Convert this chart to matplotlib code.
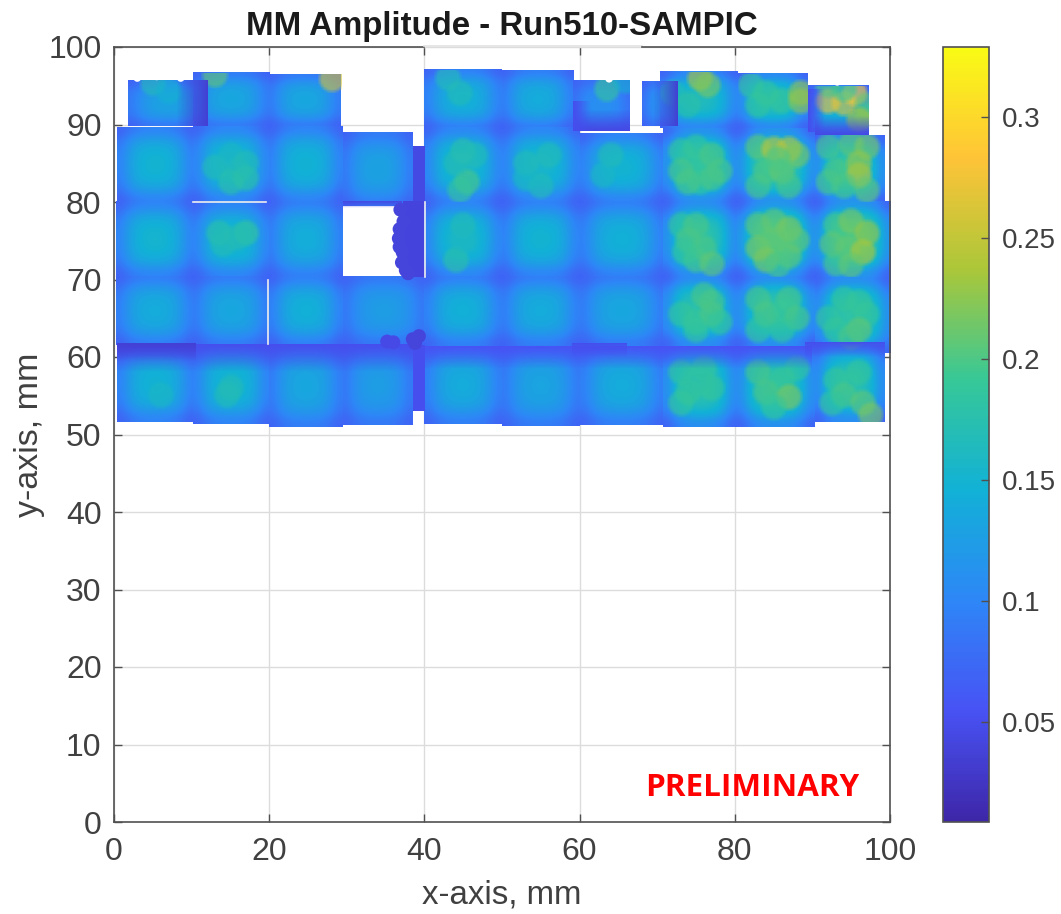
import numpy as np
import matplotlib
matplotlib.use('Agg')
import matplotlib.pyplot as plt
from matplotlib.colors import LinearSegmentedColormap
from matplotlib.cm import ScalarMappable
from matplotlib.colors import Normalize
from matplotlib.patches import Rectangle

plt.rcParams['font.family'] = ['Liberation Sans', 'DejaVu Sans']

# parula
parula_colors = [(0.2422, 0.1504, 0.6603), (0.2810, 0.3228, 0.9579), (0.1786, 0.5289, 0.9682),
                 (0.0689, 0.6948, 0.8394), (0.2161, 0.7843, 0.5923), (0.6720, 0.7793, 0.2227),
                 (0.9970, 0.7659, 0.2199), (0.9769, 0.9839, 0.0805)]
parula = LinearSegmentedColormap.from_list('parula', parula_colors)
vmin, vmax = 0.0086, 0.329

# pads, one line per row
pad_x0 = [1.8, 10.2, 20.0,   40.0, 50.0, 59.2, 68.0, 70.4, 80.4, 89.4,
          0.4, 10.2, 20.0, 29.5,   40.0, 50.0, 60.0, 70.8, 80.3, 90.3,
          0.2, 10.2, 20.0,   40.0, 50.0, 60.0, 70.8, 80.3, 90.3,
          0.2, 10.2, 20.0, 29.5,   40.0, 50.0, 60.0, 70.8, 80.3, 90.3,
          0.4, 10.2, 20.0, 29.5,   40.0, 50.0, 60.0, 70.8, 80.3, 90.3]
pad_x1 = [12.0, 20.0, 29.2,   50.0, 59.2, 66.5, 72.7, 80.4, 89.4, 97.2,
          10.2, 20.0, 29.5, 38.5,   50.0, 60.0, 70.8, 80.3, 90.3, 99.2,
          10.2, 20.0, 29.5,   50.0, 60.0, 70.8, 80.3, 90.3, 100.0,
          10.2, 20.0, 29.5, 40.0,   50.0, 60.0, 70.8, 80.3, 90.3, 100.0,
          10.2, 20.0, 29.5, 38.5,   50.0, 60.0, 70.8, 80.3, 90.3, 99.2]
pad_y0 = [89.8, 89.8, 89.8,   89.5, 89.5, 89.2, 89.8, 89.5, 89.5, 88.6,
          80.0, 80.0, 80.0, 79.5,   80.0, 80.0, 80.0, 80.0, 80.0, 80.0,
          70.3, 70.3, 70.3,   70.3, 70.3, 70.3, 70.3, 70.3, 70.3,
          61.5, 61.5, 61.5, 61.5,   61.5, 61.5, 61.5, 61.5, 61.5, 60.5,
          51.6, 51.3, 51.0, 51.2,   51.4, 51.1, 51.2, 51.0, 51.0, 51.6]
pad_y1 = [95.7, 96.7, 96.5,   97.0, 96.9, 95.7, 95.5, 96.8, 96.5, 95.0,
          89.6, 89.8, 89.8, 89.0,   89.6, 89.6, 88.8, 89.5, 89.5, 88.6,
          80.0, 79.9, 80.0,   80.0, 80.0, 80.0, 80.0, 80.0, 80.0,
          70.3, 70.3, 70.3, 70.3,   70.3, 70.3, 70.3, 70.3, 70.3, 70.3,
          61.5, 61.5, 61.5, 61.5,   61.5, 61.5, 61.5, 61.5, 61.5, 61.5]
pad_peak = [0.130, 0.135, 0.135,   0.145, 0.140, 0.110, 0.110, 0.165, 0.170, 0.145,
            0.150, 0.155, 0.148, 0.130,   0.158, 0.155, 0.150, 0.185, 0.192, 0.188,
            0.152, 0.155, 0.142,   0.158, 0.150, 0.145, 0.182, 0.200, 0.200,
            0.140, 0.135, 0.145, 0.125,   0.145, 0.140, 0.135, 0.178, 0.182, 0.182,
            0.148, 0.152, 0.135, 0.125,   0.140, 0.132, 0.140, 0.178, 0.182, 0.178]
pad_edge = 0.07

# falloff of one pad, edge 0 to centre 1
pad_shape = [[0.00, 0.18, 0.30, 0.34, 0.35, 0.34, 0.30, 0.18, 0.00],
             [0.18, 0.45, 0.62, 0.68, 0.70, 0.68, 0.62, 0.45, 0.18],
             [0.30, 0.62, 0.82, 0.88, 0.90, 0.88, 0.82, 0.62, 0.30],
             [0.34, 0.68, 0.88, 0.97, 0.99, 0.97, 0.88, 0.68, 0.34],
             [0.35, 0.70, 0.90, 0.99, 1.00, 0.99, 0.90, 0.70, 0.35],
             [0.34, 0.68, 0.88, 0.97, 0.99, 0.97, 0.88, 0.68, 0.34],
             [0.30, 0.62, 0.82, 0.88, 0.90, 0.88, 0.82, 0.62, 0.30],
             [0.18, 0.45, 0.62, 0.68, 0.70, 0.68, 0.62, 0.45, 0.18],
             [0.00, 0.18, 0.30, 0.34, 0.35, 0.34, 0.30, 0.18, 0.00]]

# darker strips where pads overlap: x0, x1, y0, y1, value, side that stays opaque
strip_x0 = [8.0, 69.5, 59.2, 59.2, 89.4, 90.3, 0.4, 40.0, 0.4, 29.5, 38.5, 89.0, 38.5, 37.3, 59.0]
strip_x1 = [12.0, 72.7, 66.5, 61.5, 91.5, 97.2, 39.0, 90.0, 10.5, 37.0, 40.0, 99.2, 40.0, 40.0, 66.0]
strip_y0 = [89.8, 89.8, 89.2, 89.2, 89.0, 88.6, 58.0, 58.5, 59.5, 79.2, 79.5, 60.0, 53.0, 70.3, 60.0]
strip_y1 = [95.7, 95.5, 92.0, 93.0, 94.5, 91.0, 61.5, 61.4, 61.7, 80.0, 87.2, 61.9, 61.5, 80.0, 61.8]
strip_val = [0.035, 0.035, 0.045, 0.05, 0.05, 0.045, 0.05, 0.055, 0.035, 0.045, 0.045, 0.05, 0.05, 0.04, 0.05]
strip_side = ['right', 'right', 'bottom', 'left', 'left', 'bottom', 'top', 'top', 'top', 'top', 'none', 'top',
              'none', 'none', 'top']

# hot spots on the pads
spot_x = [73, 75, 77, 73, 75.5, 78, 77, 74,   83, 85, 87, 88, 84, 86, 83, 87, 85.5,
          92, 95, 97, 93, 96, 96, 94, 97, 92,   73, 75, 74, 76, 75, 77, 73.5,
          83, 85, 87, 88, 83, 85, 87, 84, 85.5,   93, 95, 97, 92.5, 94.5, 96.5, 93, 95,
          76, 77, 73, 75, 77, 75, 78,   83, 87, 84, 86.5, 88, 83, 86,
          94, 96, 92, 97, 93, 96, 95,   73, 76, 74, 77, 73, 75,
          83, 86, 88, 84, 87, 85,   93, 96, 94, 96.5, 97.5, 92.5,
          75.5, 76.5, 72, 74,   82, 84, 86, 88.5, 88.5, 83,
          92, 94, 95.5, 97, 97, 94, 96, 92,
          13, 15, 16, 17, 15, 17,   45, 45.5, 44.5, 44, 46.5,   45, 44, 45,
          13.5, 17, 14, 16,   53, 56, 55, 53,   64, 63,
          5, 7, 28, 13, 63.5, 66, 43, 44.5, 14.5, 6, 15]
spot_y = [86.5, 87, 86, 84, 82.5, 84, 83, 82.5,   87, 86.8, 86.8, 86, 84, 84, 82, 82, 85.5,
          87, 87.5, 87, 84, 83.5, 85, 82, 81.5, 82.5,   77, 77, 75, 74, 72.5, 72, 73.5,
          77, 77.5, 76.5, 75, 74, 75, 73, 72.5, 71.8,   77, 77.5, 76, 74.5, 74, 73.5, 72, 71.8,
          68, 67, 65.5, 64.5, 65.5, 63.5, 64.5,   67.5, 67.5, 65.5, 66, 65, 63.5, 63.5,
          67.5, 67, 65, 65.5, 63.5, 63.5, 62.5,   58, 58.5, 55.5, 56, 54, 57,
          58, 57, 58.5, 55.5, 54.8, 53.5,   57, 58, 55, 54, 52.5, 54,
          96, 95, 94, 92.5,   95, 94, 93, 94, 93, 92.5,
          93, 92.8, 94, 92.5, 91, 94.5, 90.5, 95,
          84.5, 82.5, 84, 83, 86, 85,   86.5, 82.5, 81.5, 85, 86,   77, 72.5, 75,
          76, 76, 74.5, 75.5,   85, 86, 82, 83,   86, 83.5,
          95.3, 94.3, 95.8, 96.4, 94.5, 95.6, 96, 94, 55, 55, 56]
spot_v = [0.19, 0.19, 0.20, 0.20, 0.19, 0.20, 0.20, 0.20,   0.21, 0.25, 0.25, 0.22, 0.20, 0.21, 0.20, 0.20, 0.20,
          0.20, 0.21, 0.22, 0.20, 0.25, 0.23, 0.20, 0.21, 0.20,   0.19, 0.20, 0.20, 0.20, 0.20, 0.21, 0.19,
          0.21, 0.21, 0.22, 0.21, 0.22, 0.21, 0.21, 0.22, 0.20,   0.20, 0.22, 0.23, 0.21, 0.21, 0.24, 0.20, 0.21,
          0.20, 0.20, 0.19, 0.19, 0.20, 0.19, 0.19,   0.20, 0.20, 0.20, 0.19, 0.20, 0.19, 0.19,
          0.19, 0.19, 0.19, 0.19, 0.19, 0.21, 0.20,   0.19, 0.19, 0.19, 0.19, 0.19, 0.18,
          0.20, 0.19, 0.19, 0.20, 0.22, 0.19,   0.19, 0.19, 0.20, 0.21, 0.22, 0.19,
          0.24, 0.22, 0.17, 0.18,   0.19, 0.19, 0.19, 0.23, 0.23, 0.19,
          0.28, 0.27, 0.29, 0.21, 0.19, 0.19, 0.24, 0.20,
          0.17, 0.18, 0.17, 0.18, 0.16, 0.17,   0.18, 0.20, 0.19, 0.17, 0.17,   0.17, 0.18, 0.16,
          0.18, 0.19, 0.17, 0.17,   0.17, 0.17, 0.17, 0.16,   0.17, 0.16,
          0.17, 0.15, 0.26, 0.21, 0.19, 0.15, 0.17, 0.17, 0.17, 0.16, 0.17]

# jagged dark edge of the hole and the dents near y = 61
jag_x = [36.9, 37.3, 36.8, 36.7, 36.8, 37.2, 37.1, 37.6, 37.9, 35.2, 36.0, 38.5, 39.3, 38.8]
jag_y = [79.0, 77.5, 76.5, 75.3, 74.2, 73.5, 72.2, 71.2, 70.8, 62.0, 61.9, 62.3, 62.7, 61.8]
jag_v = [0.04, 0.04, 0.04, 0.04, 0.04, 0.04, 0.04, 0.04, 0.04, 0.045, 0.045, 0.04, 0.04, 0.04]
notch_x = [3.0, 5.5, 8.6, 63.8, 67.0, 93.2, 90.5, 98.0]
notch_y = [96.0, 96.2, 96.0, 95.9, 95.0, 95.5, 95.6, 94.6]

# thin white seams: x0, x1, y0, y1
seam_x0 = [10.2, 19.9, 40.05]
seam_x1 = [19.6, 19.9, 40.05]
seam_y0 = [79.95, 61.7, 70.3]
seam_y1 = [79.95, 70.0, 80.0]

axis_ticks = [0, 20, 40, 60, 80, 100]
y_ticks = [0, 10, 20, 30, 40, 50, 60, 70, 80, 90, 100]
cbar_ticks = [0.05, 0.1, 0.15, 0.2, 0.25, 0.3]
cbar_labels = ['0.05', '0.1', '0.15', '0.2', '0.25', '0.3']

text_color = '#404040'
spine_color = '#505050'

fig = plt.figure(figsize=(10.61, 9.14), dpi=100)
ax = fig.add_axes([114 / 1061, 92 / 914, 776 / 1061, 775 / 914])

shape = np.array(pad_shape)
for i in range(len(pad_x0)):
    z = pad_edge + (pad_peak[i] - pad_edge) * shape
    ax.imshow(z, extent=[pad_x0[i], pad_x1[i], pad_y0[i], pad_y1[i]], origin='lower', cmap=parula,
              vmin=vmin, vmax=vmax, interpolation='bicubic', aspect='auto', zorder=1.5)

# soft round blobs, kept inside the pad they sit on
gx, gy = np.meshgrid(np.linspace(-1, 1, 41), np.linspace(-1, 1, 41))
blob_alpha = np.clip(1.1 * (1 - gx ** 2 - gy ** 2), 0, 0.6)
blob_r = 1.9
for x, y, v in zip(spot_x, spot_y, spot_v):
    im = ax.imshow(np.full(blob_alpha.shape, v), alpha=blob_alpha, origin='lower', cmap=parula, vmin=vmin, vmax=vmax,
                   extent=[x - blob_r, x + blob_r, y - blob_r, y + blob_r], interpolation='nearest',
                   aspect='auto', zorder=2)
    for i in range(len(pad_x0)):
        if pad_x0[i] <= x <= pad_x1[i] and pad_y0[i] <= y <= pad_y1[i]:
            im.set_clip_path(Rectangle((pad_x0[i], pad_y0[i]), pad_x1[i] - pad_x0[i], pad_y1[i] - pad_y0[i],
                                       transform=ax.transData))

ramp = np.linspace(0, 1, 40)
fades = {'right': ramp[None, :], 'left': ramp[::-1][None, :], 'top': ramp[:, None], 'bottom': ramp[::-1][:, None],
         'none': np.array([[1.0]])}
for i in range(len(strip_x0)):
    alpha = fades[strip_side[i]]
    ax.imshow(np.full(alpha.shape, strip_val[i]), alpha=alpha, origin='lower',
              extent=[strip_x0[i], strip_x1[i], strip_y0[i], strip_y1[i]], cmap=parula, vmin=vmin, vmax=vmax,
              interpolation='nearest', aspect='auto', zorder=2.2)

ax.scatter(jag_x, jag_y, c=jag_v, s=100, cmap=parula, vmin=vmin, vmax=vmax, edgecolors='none', zorder=2.3)
ax.scatter(notch_x, notch_y, c='white', s=30, edgecolors='none', zorder=2.4)
for i in range(len(seam_x0)):
    ax.plot([seam_x0[i], seam_x1[i]], [seam_y0[i], seam_y1[i]], color='#eeeeee', lw=1.2, zorder=2.5)

ax.set_xlim(0, 100)
ax.set_ylim(0, 100)
ax.set_xticks(axis_ticks)
ax.set_yticks(y_ticks)
ax.set_axisbelow(True)
ax.grid(True, color='#dcdcdc', lw=1.0)
ax.tick_params(direction='in', length=5.5, width=1.0, color=spine_color, labelcolor=text_color,
               labelsize=23, top=True, right=True, pad=9)
ax.tick_params(axis='x', pad=11)
for side in ['left', 'right', 'bottom']:
    ax.spines[side].set_color(spine_color)
    ax.spines[side].set_linewidth(1.2)
ax.spines['top'].set_visible(False)
# top border is washed out between x=40 and x=68
ax.plot([0, 40], [100, 100], color=spine_color, lw=1.2, clip_on=False, zorder=3)
ax.plot([40, 68], [100.1, 100.1], color='#e2e2e2', lw=1.2, clip_on=False, zorder=3)
ax.plot([68, 100], [100, 100], color=spine_color, lw=1.2, clip_on=False, zorder=3)

ax.set_xlabel('x-axis, mm', fontsize=23.8, color=text_color, labelpad=8.5)
ax.set_ylabel('y-axis, mm', fontsize=24.5, color=text_color, labelpad=2)
fig.text(502 / 1061, 1 - 35 / 914, 'MM Amplitude - Run510-SAMPIC', fontsize=23.8, fontweight='bold',
         color='#1a1a1a', ha='center', va='baseline')
ax.text(96.1, 4.4, 'PRELIMINARY', color='#ff0000', fontsize=22.6, fontweight='bold',
        family=['Open Sans', 'DejaVu Sans'], ha='right', va='center', zorder=4)
cax = fig.add_axes([943 / 1061, 92 / 914, 46 / 1061, 775 / 914])
cb = fig.colorbar(ScalarMappable(Normalize(vmin, vmax), parula), cax=cax, ticks=cbar_ticks)
cb.ax.set_yticklabels(cbar_labels)
cb.ax.tick_params(direction='in', length=5.5, width=1.0, color=spine_color, labelcolor=text_color,
                  labelsize=20, pad=9)
cb.outline.set_edgecolor(spine_color)
cb.outline.set_linewidth(1.2)

fig.savefig('out.png', dpi=100, facecolor='white')
